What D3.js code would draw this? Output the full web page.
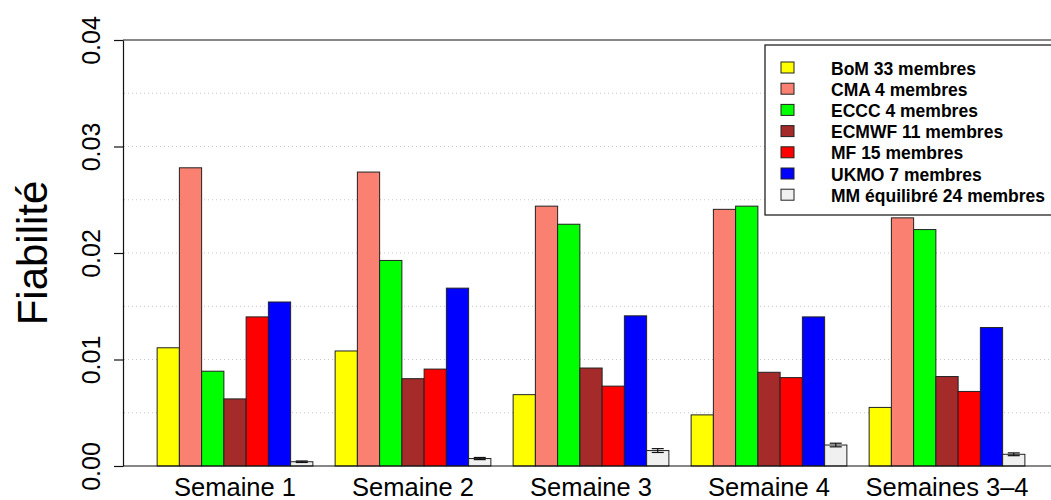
<!DOCTYPE html>
<html>
<head>
<meta charset="utf-8">
<script src="https://cdn.jsdelivr.net/npm/d3@7"></script>
<style>
	body { margin: 0; background: #fff; }
	svg { display: block; font-family: "Liberation Sans", Arial, sans-serif; }
</style>
</head>
<body>
<svg width="1051" height="500"></svg>
<script>
const groups = ['Semaine 1', 'Semaine 2', 'Semaine 3', 'Semaine 4', 'Semaines 3\u20134'];
const models = ['BoM 33 membres', 'CMA 4 membres', 'ECCC 4 membres', 'ECMWF 11 membres',
	'MF 15 membres', 'UKMO 7 membres', 'MM \u00e9quilibr\u00e9 24 membres'];
const colors = ['#ffff00', '#fa8072', '#00ff00', '#a52a2a', '#ff0000', '#0000ff', '#f0f0f0'];

// one array per model, values per week
const bom = [0.0111, 0.0108, 0.0067, 0.0048, 0.0055];
const cma = [0.0280, 0.0276, 0.0244, 0.0241, 0.0233];
const eccc = [0.0089, 0.0193, 0.0227, 0.0244, 0.0222];
const ecmwf = [0.0063, 0.0082, 0.0092, 0.0088, 0.0084];
const mf = [0.0140, 0.0091, 0.0075, 0.0083, 0.0070];
const ukmo = [0.0154, 0.0167, 0.0141, 0.0140, 0.0130];
const mm = [0.0004, 0.0007, 0.00145, 0.00197, 0.0011];
const mmLow = [0.00033, 0.00060, 0.00127, 0.00180, 0.00097];
const mmHigh = [0.00047, 0.00080, 0.00163, 0.00214, 0.00123];

const yTicks = [0, 0.01, 0.02, 0.03, 0.04];
const yGrid = [0.005, 0.01, 0.015, 0.02, 0.025, 0.03, 0.035];

const series = [bom, cma, eccc, ecmwf, mf, ukmo, mm];

const svg = d3.select('svg'),
	width = 1051;

const x0 = d3.scaleBand().domain(groups).range([146, 1036]).paddingInner(0.125).paddingOuter(0.0625);
const x1 = d3.scaleBand().domain(d3.range(models.length)).range([0, x0.bandwidth()]);
const y = d3.scaleLinear().domain([0, 0.04]).range([466, 40]);

// dotted grid
svg.append('g')
	.selectAll('line')
	.data(yGrid)
	.enter().append('line')
	.attr('x1', 124).attr('x2', width)
	.attr('y1', d => y(d)).attr('y2', d => y(d))
	.attr('stroke', '#c8c8c8')
	.attr('stroke-dasharray', '1,3');

// bars
let rows = [];
groups.forEach((g, gi) => {
	series.forEach((s, si) => {
		rows.push({group: g, idx: si, value: s[gi]});
	});
});

svg.append('g')
	.selectAll('rect')
	.data(rows)
	.enter().append('rect')
	.attr('x', d => x0(d.group) + x1(d.idx))
	.attr('y', d => y(d.value))
	.attr('width', x1.bandwidth())
	.attr('height', d => y(0) - y(d.value))
	.attr('fill', d => colors[d.idx])
	.attr('stroke', '#222')
	.attr('stroke-width', 1);

// error bars on the multi-model
let errs = groups.map((g, i) => ({group: g, lo: mmLow[i], hi: mmHigh[i]}));
let eg = svg.append('g').attr('stroke', '#111').attr('stroke-width', 1.2);
errs.forEach(d => {
	let cx = x0(d.group) + x1(6) + x1.bandwidth() / 2;
	eg.append('line').attr('x1', cx).attr('x2', cx).attr('y1', y(d.lo)).attr('y2', y(d.hi));
	eg.append('line').attr('x1', cx - 6).attr('x2', cx + 6).attr('y1', y(d.lo)).attr('y2', y(d.lo));
	eg.append('line').attr('x1', cx - 6).attr('x2', cx + 6).attr('y1', y(d.hi)).attr('y2', y(d.hi));
});

// lines at 0 and 0.04
svg.append('g')
	.selectAll('line')
	.data([0, 0.04])
	.enter().append('line')
	.attr('x1', 123).attr('x2', width)
	.attr('y1', d => y(d)).attr('y2', d => y(d))
	.attr('stroke', '#111').attr('stroke-width', 1.2);

// y axis
let yAxis = svg.append('g')
	.attr('transform', 'translate(123,0)')
	.call(d3.axisLeft(y).tickValues(yTicks).tickFormat(d3.format('.2f')).tickSize(9).tickSizeOuter(0));
yAxis.select('.domain').attr('stroke', '#111').attr('stroke-width', 1.2);
yAxis.selectAll('.tick line').attr('stroke', '#111').attr('stroke-width', 1.2);
yAxis.selectAll('.tick text')
	.attr('font-size', 25)
	.attr('font-family', '"Liberation Sans", Arial, sans-serif')
	.attr('fill', '#000')
	.attr('x', 0).attr('y', 0).attr('dy', 0)
	.attr('text-anchor', 'middle')
	.attr('transform', 'translate(-23,0) rotate(-90)');

// x labels
svg.append('g')
	.selectAll('text')
	.data(groups)
	.enter().append('text')
	.attr('x', d => x0(d) + x0.bandwidth() / 2)
	.attr('y', 496)
	.attr('text-anchor', 'middle')
	.attr('font-size', 25.5)
	.text(d => d);

// y title
svg.append('text')
	.attr('transform', 'translate(47,253) rotate(-90)')
	.attr('text-anchor', 'middle')
	.attr('font-size', 42)
	.text('Fiabilit\u00e9');

// legend
let legend = svg.append('g');
legend.append('rect')
	.attr('x', 765).attr('y', 45)
	.attr('width', 300).attr('height', 170)
	.attr('fill', '#fff').attr('stroke', '#111').attr('stroke-width', 1.2);

let item = legend.selectAll('g.item')
	.data(models)
	.enter().append('g')
	.attr('class', 'item')
	.attr('transform', (d, i) => `translate(0,${68 + i * 21.2})`);

item.append('rect')
	.attr('x', 781).attr('y', -6)
	.attr('width', 13).attr('height', 11)
	.attr('fill', (d, i) => colors[i])
	.attr('stroke', '#222');

item.append('text')
	.attr('x', 831).attr('y', 6.5)
	.attr('font-size', 17.5)
	.attr('font-weight', 'bold')
	.text(d => d);
</script>
</body>
</html>
